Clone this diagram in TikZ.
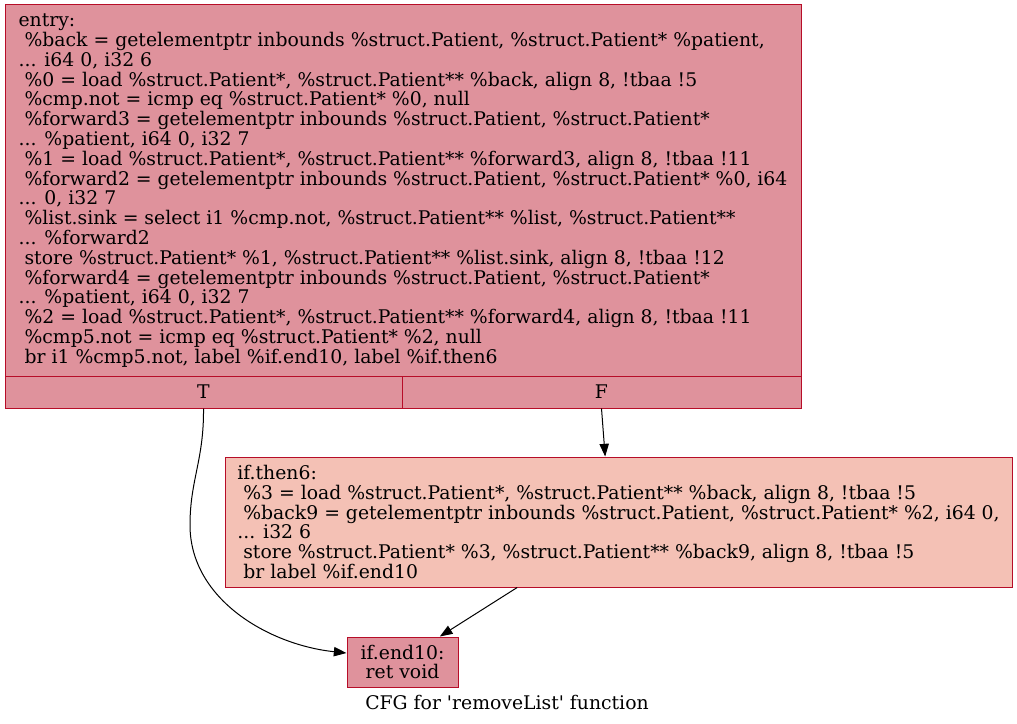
\documentclass[tikz,border=0pt]{standalone}
\usepackage{fontspec}
\setmainfont{DejaVu Serif}
\usetikzlibrary{arrows.meta}

\definecolor{hotfill}{RGB}{223,146,156}
\definecolor{warmfill}{RGB}{244,193,181}
\definecolor{blockline}{RGB}{183,13,40}
\newcommand{\lind}{\hspace*{\fontdimen2\font}}

\tikzset{
	block/.style = {draw = blockline, line width = 0.75pt, rectangle, inner sep = 0pt,
		font = \fontsize{14.1}{14.85}\selectfont},
	edge/.style = {-{Triangle[length = 9.5pt, width = 7pt]}, line width = 0.75pt}
}

\begin{document}
\begin{tikzpicture}[x = 0.75pt, y = -0.75pt]
	\useasboundingbox (0,0) rectangle (1017,724);
	
	\node [block, fill = hotfill, align = left, minimum width = 597pt, minimum height = 278.25pt] (entry) at (403,190.5)
	{entry:\\
	\lind\%back = getelementptr inbounds \%struct.Patient, \%struct.Patient* \%patient,\\
	... i64 0, i32 6\\
	\lind\%0 = load \%struct.Patient*, \%struct.Patient** \%back, align 8, !tbaa !5\\
	\lind\%cmp.not = icmp eq \%struct.Patient* \%0, null\\
	\lind\%forward3 = getelementptr inbounds \%struct.Patient, \%struct.Patient*\\
	... \%patient, i64 0, i32 7\\
	\lind\%1 = load \%struct.Patient*, \%struct.Patient** \%forward3, align 8, !tbaa !11\\
	\lind\%forward2 = getelementptr inbounds \%struct.Patient, \%struct.Patient* \%0, i64\\
	... 0, i32 7\\
	\lind\%list.sink = select i1 \%cmp.not, \%struct.Patient** \%list, \%struct.Patient**\\
	... \%forward2\\
	\lind store \%struct.Patient* \%1, \%struct.Patient** \%list.sink, align 8, !tbaa !12\\
	\lind\%forward4 = getelementptr inbounds \%struct.Patient, \%struct.Patient*\\
	... \%patient, i64 0, i32 7\\
	\lind\%2 = load \%struct.Patient*, \%struct.Patient** \%forward4, align 8, !tbaa !11\\
	\lind\%cmp5.not = icmp eq \%struct.Patient* \%2, null\\
	\lind br i1 \%cmp5.not, label \%if.end10, label \%if.then6};
	\node [block, fill = hotfill, minimum width = 297.75pt, minimum height = 24pt] (entryT) at (203.5,392) {T};
	\node [block, fill = hotfill, minimum width = 299.25pt, minimum height = 24pt] (entryF) at (601.5,392) {F};
	
	\node [block, fill = warmfill, align = left, minimum width = 590.25pt, minimum height = 97.5pt] (then6) at (618.5,522)
	{if.then6:\\
	\lind\%3 = load \%struct.Patient*, \%struct.Patient** \%back, align 8, !tbaa !5\\
	\lind\%back9 = getelementptr inbounds \%struct.Patient, \%struct.Patient* \%2, i64 0,\\
	... i32 6\\
	\lind store \%struct.Patient* \%3, \%struct.Patient** \%back9, align 8, !tbaa !5\\
	\lind br label \%if.end10};
	
	\node [block, fill = hotfill, align = center, minimum width = 83.25pt, minimum height = 37.5pt] (end10) at (402.5,662)
	{if.end10:\\ret void};
	
	\node [font = \fontsize{14.1}{14.85}\selectfont] (title) at (507,702) {CFG for \textquotesingle removeList\textquotesingle{} function};
	
	\draw [edge] (entryT.south) .. controls (204,460) and (190,480) .. (190,525)
		.. controls (190,600) and (270,645) .. ([yshift = 6.75pt]end10.west);
	\draw [edge] (entryF.south) -- ([xshift = -10pt]then6.north);
	\draw [edge] ([xshift = -76pt]then6.south) -- ([xshift = 28pt]end10.north);
\end{tikzpicture}
\end{document}
